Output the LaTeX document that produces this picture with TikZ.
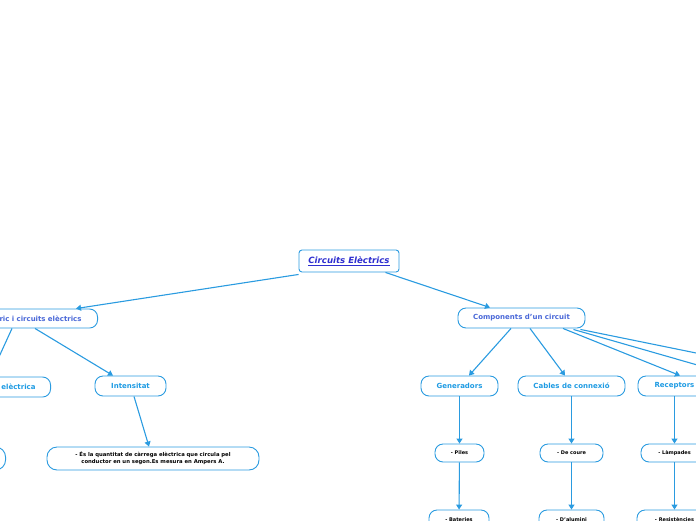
\documentclass[tikz,border=0pt]{standalone}
\usepackage{fontspec}
\setmainfont{DejaVu Sans}
\usetikzlibrary{arrows.meta,calc}
\definecolor{edgeblue}{HTML}{2A9BE0}
\definecolor{rootcol}{HTML}{2E2ED0}
\definecolor{lonecol}{HTML}{4A68D8}
\definecolor{ltwocol}{HTML}{1E9BE3}
\tikzset{
  box/.style={draw=edgeblue,line width=0.9pt,fill=white,inner sep=0pt,align=center},
  rootbox/.style={box,rounded corners=3pt,font=\fontsize{8.6}{10}\selectfont\bfseries\itshape,text=rootcol},
  lonebox/.style={box,rounded corners=8pt,font=\fontsize{7}{9}\selectfont\bfseries,text=lonecol},
  ltwobox/.style={box,rounded corners=8pt,font=\fontsize{7}{9}\selectfont\bfseries,text=ltwocol},
  lthreebox/.style={box,rounded corners=8pt,font=\fontsize{5}{6.5}\selectfont\bfseries,text=black},
  descbox/.style={box,rounded corners=10pt,font=\fontsize{5.3}{7}\selectfont\bfseries,text=black},
  conn/.style={draw=edgeblue,line width=1.1pt,-{Triangle[width=6pt,length=5pt]}},
  plainconn/.style={draw=edgeblue,line width=1.1pt},
}
\begin{document}
\begin{tikzpicture}[x=1pt,y=-1pt]
\useasboundingbox (0,0) rectangle (696,520);
\clip (0,0) rectangle (696,520);
% root
\node[rootbox,minimum width=100pt,minimum height=22pt] (root) at (349,261) {\underline{Circuits Elèctrics}};
% level 1
\node[lonebox,anchor=east,text width=140pt,align=right,inner xsep=16pt,minimum height=19pt] (corr) at (98,318.5) {tric i circuits elèctrics};
\node[lonebox,minimum width=127pt,minimum height=20pt] (comp) at (521.5,318) {Components d'un circuit};
% level 2 left
\node[ltwobox,anchor=east,text width=80pt,align=right,inner xsep=15pt,minimum height=20pt] (carr) at (51,387) {elèctrica};
\node[ltwobox,minimum width=71pt,minimum height=20pt] (intens) at (130.5,386) {Intensitat};
% level 3 left
\node[descbox,anchor=east,minimum width=120pt,minimum height=23pt] (carrdesc) at (6,458.5) {};
\node[descbox,minimum width=212pt,minimum height=23pt] (desc) at (153,458.5) {- És la quantitat de càrrega elèctrica que circula pel\\conductor en un segon.Es mesura en Ampers A.};
% level 2 right
\node[ltwobox,minimum width=77pt,minimum height=20pt] (gen) at (459.5,386) {Generadors};
\node[ltwobox,minimum width=107pt,minimum height=20pt] (cab) at (571.5,386) {Cables de connexió};
\node[ltwobox,minimum width=73pt,minimum height=20pt] (rec) at (674.5,386) {Receptors};
% level 3 right
\node[lthreebox,minimum width=49pt,minimum height=18pt] (piles) at (459.5,453) {- Piles};
\node[lthreebox,minimum width=60pt,minimum height=20pt] (bat) at (459,520) {- Bateries};
\node[lthreebox,minimum width=63pt,minimum height=18pt] (coure) at (571.5,453) {- De coure};
\node[lthreebox,minimum width=65pt,minimum height=20pt] (alum) at (571.5,520) {- D'alumini};
\node[lthreebox,minimum width=67pt,minimum height=18pt] (lamp) at (674.5,453) {- Làmpades};
\node[lthreebox,minimum width=75pt,minimum height=20pt] (res) at (674.5,520) {- Resistències};
% off-canvas targets
\coordinate (outa) at (760,383);
\coordinate (outb) at (760,366);
% connectors
\draw[conn] ([yshift=-2pt]root.south west) -- ([xshift=-22pt]corr.north east);
\draw[conn] ([xshift=-14pt]root.south east) -- ([xshift=-31.5pt]comp.north);
\draw[conn] ([xshift=-86pt]corr.south east) -- ([xshift=-61pt]carr.north east);
\draw[conn] ([xshift=-63pt]corr.south east) -- ([xshift=-17.5pt]intens.north);
\draw[conn] ([xshift=3.5pt]intens.south) -- ([xshift=-4pt]desc.north);
\draw[conn] ([xshift=-10.5pt]comp.south) -- ([xshift=9.5pt]gen.north);
\draw[conn] ([xshift=8.5pt]comp.south) -- ([xshift=-6.5pt]cab.north);
\draw[conn] ([xshift=41.5pt]comp.south) -- ([xshift=5.5pt]rec.north);
\draw[plainconn] ([xshift=-12pt,yshift=-1pt]comp.south east) -- (outa);
\draw[plainconn] ([xshift=-5pt,yshift=-1pt]comp.south east) -- (outb);
\draw[conn] (gen) -- (piles);
\draw[conn] (piles) -- (bat);
\draw[conn] (cab) -- (coure);
\draw[conn] (coure) -- (alum);
\draw[conn] (rec) -- (lamp);
\draw[conn] (lamp) -- (res);
\end{tikzpicture}
\end{document}
